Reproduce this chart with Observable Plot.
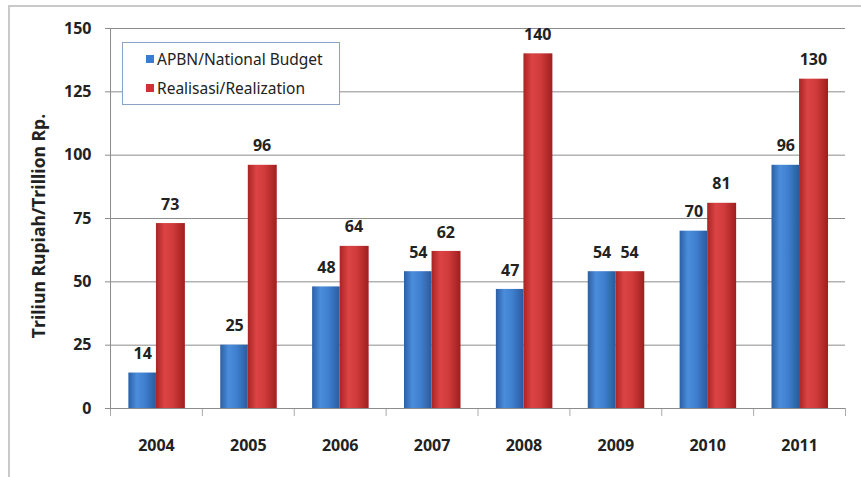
<!DOCTYPE html>
<html>
<head>
<meta charset="utf-8">
<script src="https://cdn.jsdelivr.net/npm/d3@7"></script>
<script src="https://cdn.jsdelivr.net/npm/@observablehq/plot@0.6"></script>
<style>
  html, body { margin: 0; padding: 0; background: #fff; }
  #wrap { position: relative; width: 861px; height: 477px; overflow: hidden; }
  #border { position: absolute; left: 8px; top: 5px; width: 860px; height: 480px;
            border-left: 2px solid #c9c9c9; border-top: 2px solid #c9c9c9; box-sizing: border-box; }
  #legend { position: absolute; left: 122px; top: 42px; width: 218px; height: 63px; box-sizing: border-box;
            border: 1px solid #8aa2c4; background: #fff; font-family: "Noto Sans", sans-serif; font-size: 15.5px; color: #222; }
  .item { position: absolute; left: 23px; display: flex; align-items: center; white-space: nowrap; }
  .sw { width: 8px; height: 8px; margin-right: 3px; }
  #ylabel { position: absolute; left: 38px; top: 226px; transform: translate(-50%, -50%) rotate(-90deg);
            white-space: nowrap; font-family: "Open Sans", sans-serif; font-weight: bold; font-size: 17.5px; color: #222; }
</style>
</head>
<body>
<div id="wrap">
  <div id="chart"></div>
  <div id="border"></div>
  <div id="legend"></div>
  <div id="ylabel"></div>
</div>
<script>
const years = [2004, 2005, 2006, 2007, 2008, 2009, 2010, 2011];
const apbn = [14, 25, 48, 54, 47, 54, 70, 96];
const realisasi = [73, 96, 64, 62, 140, 54, 81, 130];
const seriesNames = ["APBN/National Budget", "Realisasi/Realization"];
const yTicks = [0, 25, 50, 75, 100, 125, 150];
const yLabel = "Triliun Rupiah/Trillion Rp.";

const data = years.map((y, i) => ({year: y, apbn: apbn[i], real: realisasi[i]}));
const half = 0.5, bw = 0.3;
const bounds = [years[0] - half, ...years.map(y => y + half)];

const plot = Plot.plot({
  width: 861,
  height: 477,
  marginLeft: 110,
  marginRight: 16,
  marginTop: 28,
  marginBottom: 69,
  style: {fontFamily: "'Open Sans', sans-serif", fontSize: "16px", fontWeight: "bold", color: "#222", background: "transparent"},
  x: {type: "linear", domain: [bounds[0], bounds[bounds.length - 1]]},
  y: {domain: [0, 150]},
  marks: [
    Plot.gridY(yTicks, {stroke: "#8c8c8c", strokeOpacity: 1}),
    Plot.axisY(yTicks, {tickSize: 5, tickPadding: 14, stroke: "#8c8c8c", label: null, fontSize: 16}),
    Plot.axisX(bounds, {tickSize: 8, tickFormat: () => "", stroke: "#aaaaaa", label: null}),
    Plot.axisX(years, {tickSize: 0, tickPadding: 31, tickFormat: d => String(d), label: null, fontSize: 16}),
    Plot.rectY(data, {x1: d => d.year - bw, x2: d => d.year, y: "apbn", fill: "url(#gBlue)"}),
    Plot.rectY(data, {x1: d => d.year, x2: d => d.year + bw + 0.015, y: "real", fill: "url(#gRed)"}),
    Plot.ruleX([bounds[0]], {stroke: "#8c8c8c"}),
    Plot.ruleY([0], {stroke: "#8c8c8c"}),
    Plot.text(data, {x: d => d.year - bw / 2, y: "apbn", text: d => String(d.apbn), dy: -19, fill: "#222", fontSize: 16}),
    Plot.text(data, {x: d => d.year + bw / 2, y: "real", text: d => String(d.real), dy: -19, fill: "#222", fontSize: 16})
  ]
});

// gradients for cylinder look
const ns = "http://www.w3.org/2000/svg";
const defs = document.createElementNS(ns, "defs");
function grad(id, stops) {
  const g = document.createElementNS(ns, "linearGradient");
  g.setAttribute("id", id);
  g.setAttribute("x1", "0"); g.setAttribute("x2", "1"); g.setAttribute("y1", "0"); g.setAttribute("y2", "0");
  stops.forEach(([o, c]) => {
    const s = document.createElementNS(ns, "stop");
    s.setAttribute("offset", o); s.setAttribute("stop-color", c);
    g.appendChild(s);
  });
  defs.appendChild(g);
}
grad("gBlue", [[0, "#2b5fa6"], [0.3, "#4b8ddb"], [0.6, "#3f7fcf"], [1, "#2a5b9e"]]);
grad("gRed", [[0, "#a92424"], [0.3, "#dc4444"], [0.6, "#cf3a3a"], [1, "#9e1f1f"]]);
plot.insertBefore(defs, plot.firstChild);
document.getElementById("chart").appendChild(plot);

document.getElementById("ylabel").textContent = yLabel;

// legend
const legend = document.getElementById("legend");
const colors = ["#3b7bd0", "#cc3333"];
seriesNames.forEach((name, i) => {
  const it = document.createElement("div");
  it.className = "item";
  it.style.top = (i === 0 ? 5 : 34) + "px";
  it.innerHTML = `<span class="sw" style="background:${colors[i]}"></span><span>${name}</span>`;
  legend.appendChild(it);
});
</script>
</body>
</html>
